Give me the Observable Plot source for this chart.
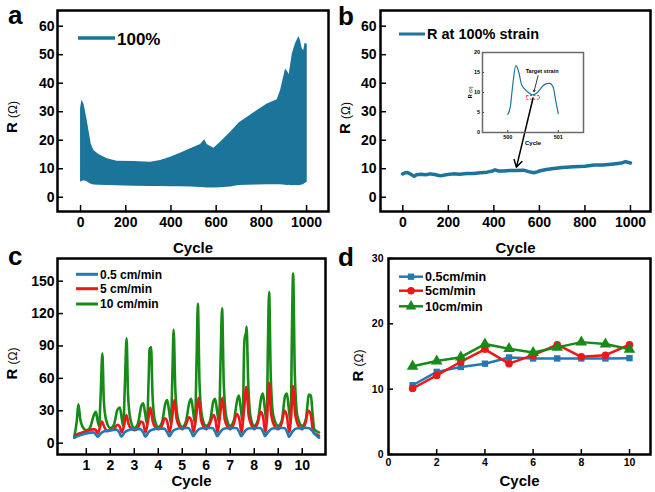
<!DOCTYPE html>
<html><head><meta charset="utf-8">
<script src="https://cdn.jsdelivr.net/npm/d3@7"></script>
<script src="https://cdn.jsdelivr.net/npm/@observablehq/plot@0.6"></script>
<style>
body{margin:0;background:#fff;}
#root{position:relative;width:655px;height:492px;overflow:hidden;background:#fff;}
</style></head><body><div id="root"></div>
<script>
// ---------- DATA ----------
// Panel a: envelope of the dense oscillation (100% strain cycling)
const aCycle = [0, 6, 15, 27, 37, 47, 59, 81, 118, 162, 236, 310, 354, 398, 442, 487, 531, 549, 560, 590, 619, 664, 701, 737, 782, 826, 870, 885, 907, 917, 923, 937, 951, 966, 973, 981, 988, 993, 1003];
const aUpper = [31, 34, 32.7, 28, 23.4, 18.7, 16.4, 15, 13.5, 12.6, 12.5, 12.3, 12.9, 14, 15.4, 17, 18.5, 20.2, 18.5, 17.2, 19.3, 22.8, 26, 28, 30.4, 32.7, 34.2, 37.4, 45, 43.9, 43, 50.3, 53.8, 56.4, 55, 52, 51.5, 54, 53.6];
const aLower = [5.3, 5.5, 5.8, 5.5, 5, 4.6, 4.3, 4.2, 4.1, 4, 3.9, 3.8, 3.8, 3.7, 3.7, 3.6, 3.4, 3.3, 3.2, 3.2, 3.3, 3.6, 4.1, 4.2, 4.3, 4.4, 4.4, 4.4, 4.2, 4.1, 4.2, 4, 4.1, 4, 4.1, 4.3, 4.5, 4.8, 5.3];
const aLegend = "100%";

// Panel b: R at 100% strain
const bCycle = [0,10,20,30,40,50,60,80,100,120,140,165,190,220,250,280,310,340,370,390,405,420,443,470,500,530,553,575,590,604,630,663,700,750,800,840,880,927,960,978,1000];
const bR = [8.2,8.6,8.7,8.3,7.8,7.4,7.9,8.1,7.9,8.2,8.0,7.5,7.9,8.2,8.1,8.3,8.3,8.6,8.8,9.1,9.6,9.2,9.2,9.4,9.4,9.5,9.0,8.6,8.9,9.3,9.7,10.1,10.4,10.7,10.9,11.3,11.3,11.7,12.0,12.5,12.0];
const bLegend = "R at 100% strain";
const bArrow = [{x1: 572, y1: 34.8, x2: 499, y2: 10.5}];

// Panel b inset: one cycle (500 -> 501)
const insetX = [500.0,500.05,500.1,500.16,500.22,500.27,500.34,500.4,500.49,500.57,500.64,500.7,500.77,500.83,500.9,500.95,501.0];
const insetR = [4.5,6.4,12,16.7,15,12.1,10.8,10.1,9.4,9.8,10.8,11.7,12.2,12.3,11.3,8,4.7];
const insetBox = [{x1: 500.38, x2: 500.64, y1: 8.2, y2: 9.1}];
const insetNote = [{x: 500.68, y: 15.25, label: "Target strain"}];
const insetArrow = [{x1: 500.6, y1: 14.2, x2: 500.52, y2: 10.2}];

// Panel c: R vs cycle at three stretching speeds
const cLabels = ["0.5 cm/min", "5 cm/min", "10 cm/min"];
const cSlow = [[0.50,5],[0.70,7],[0.90,8.5],[1.10,9.5],[1.30,10],[1.40,8],[1.47,6],[1.60,9],[1.75,11],[2.00,12],[2.25,12.5],[2.37,10],[2.46,6],[2.60,10],[2.75,12],[3.00,13],[3.25,13],[3.37,10],[3.46,6],[3.60,10.5],[3.75,12.5],[4.00,13.5],[4.25,13.5],[4.37,10],[4.46,6.5],[4.60,11],[4.75,13],[5.00,14],[5.25,14],[5.37,10.5],[5.46,6.5],[5.60,11],[5.75,13.5],[6.00,14],[6.25,14],[6.37,10.5],[6.46,6.5],[6.60,11],[6.75,13.5],[7.00,14],[7.25,14],[7.37,10.5],[7.46,6.5],[7.60,11],[7.75,13.5],[8.00,14],[8.25,14],[8.37,10.5],[8.45,6.5],[8.60,11],[8.75,13.5],[9.00,14],[9.25,14],[9.37,10.5],[9.45,6],[9.60,11],[9.75,13.5],[10.00,14],[10.25,14],[10.40,12],[10.55,8],[10.70,5]];
const cMid = [[0.50,5],[0.60,8],[0.70,9],[0.85,10],[1.00,11],[1.15,12],[1.30,13],[1.40,12],[1.48,9],[1.56,14],[1.65,20],[1.75,15],[1.87,11],[2.00,12],[2.15,13],[2.30,17],[2.38,16],[2.48,10],[2.58,17],[2.67,26],[2.77,17],[2.90,13],[3.00,12],[3.15,14],[3.28,20],[3.36,19],[3.47,10],[3.57,20],[3.67,33],[3.77,20],[3.90,14],[4.00,13],[4.15,16],[4.27,23],[4.36,21],[4.47,10],[4.57,22],[4.67,40],[4.77,22],[4.90,15],[5.00,13],[5.15,17],[5.28,24],[5.38,21],[5.47,10],[5.58,25],[5.68,42],[5.78,22],[5.90,15],[6.00,13],[6.15,18],[6.30,26],[6.38,22],[6.47,10],[6.57,25],[6.67,42],[6.77,22],[6.90,15],[7.00,13],[7.15,18],[7.27,27],[7.37,23],[7.47,10],[7.57,30],[7.67,52],[7.77,25],[7.90,16],[8.00,13],[8.15,19],[8.27,29],[8.37,24],[8.46,10],[8.55,30],[8.61,56],[8.70,28],[8.82,17],[9.00,13],[9.15,19],[9.26,30],[9.36,25],[9.46,10],[9.55,30],[9.61,53],[9.70,28],[9.82,17],[10.00,13],[10.15,20],[10.25,30],[10.35,27],[10.46,10],[10.60,8],[10.70,7]];
const cFast = [[0.50,6],[0.60,20],[0.67,36],[0.75,22],[0.85,15],[1.00,12],[1.15,14],[1.30,25],[1.40,29],[1.46,22],[1.53,16],[1.60,45],[1.67,83],[1.73,40],[1.82,22],[2.00,14],[2.15,17],[2.30,31],[2.40,33],[2.47,24],[2.54,16],[2.61,55],[2.68,97],[2.74,45],[2.84,22],[3.00,14],[3.15,18],[3.30,35],[3.37,37],[3.45,28],[3.53,18],[3.60,60],[3.64,88],[3.67,84],[3.70,89],[3.76,45],[3.85,22],[4.00,15],[4.15,19],[4.30,37],[4.37,40],[4.45,30],[4.53,18],[4.59,65],[4.64,105],[4.71,50],[4.82,23],[5.00,15],[5.15,20],[5.30,38],[5.37,41],[5.45,30],[5.53,18],[5.60,80],[5.65,129],[5.72,55],[5.83,24],[6.00,16],[6.15,20],[6.30,39],[6.37,41],[6.45,30],[6.53,19],[6.60,80],[6.66,125],[6.73,55],[6.84,24],[7.00,16],[7.15,21],[7.30,41],[7.36,44],[7.44,32],[7.52,19],[7.58,90],[7.62,101],[7.65,98],[7.68,108],[7.75,55],[7.85,24],[8.00,16],[8.15,21],[8.30,43],[8.36,46],[8.44,32],[8.52,19],[8.57,90],[8.62,140],[8.69,60],[8.80,25],[9.00,16],[9.15,21],[9.28,43],[9.36,46],[9.44,32],[9.52,19],[9.57,100],[9.62,157],[9.69,65],[9.80,25],[10.00,16],[10.15,22],[10.28,45],[10.36,44],[10.44,25],[10.50,13],[10.60,11],[10.70,10]];

// Panel d: R at target strain per cycle
const dLabels = ["0.5cm/min", "5cm/min", "10cm/min"];
const dCycle = [1,2,3,4,5,6,7,8,9,10];
const dSlow = [10.6,12.65,13.4,13.9,14.85,14.7,14.7,14.7,14.7,14.75];
const dMid  = [10.1,12.1,14.2,16.1,13.9,15.2,16.8,14.95,15.2,16.8];
const dFast = [13.5,14.3,14.9,16.9,16.2,15.6,16.4,17.2,16.9,16.1];

// Tick labels
const abXTicks = [0,200,400,600,800,1000];
const abYTicks = [0,10,20,30,40,50,60];
const cXTicks = [1,2,3,4,5,6,7,8,9,10];
const cYTicks = [0,30,60,90,120,150];
const dXTicks = [0,2,4,6,8,10];
const dYTicks = [0,10,20,30];
const insetXTicks = [500,501];
const insetYTicks = [0,5,10,15,20];
const panelLetters = ["a","b","c","d"];

// ---------- STYLE ----------
const FONT = '"Liberation Sans", Arial, Helvetica, sans-serif';
const TEAL = "#1b7499";
const BLUE = "#2479b3";
const RED = "#ee1717";
const GREEN = "#178a17";
const colors3 = [BLUE, RED, GREEN];
const fmt = d => `${d}`;
const root = document.getElementById("root");

function place(svg, left, top) {
  svg.style.position = "absolute";
  svg.style.left = left + "px";
  svg.style.top = top + "px";
  // R (Ω): make the Ω part lighter/smaller
  d3.select(svg).selectAll("text").filter(function(){ return this.textContent === "R (Ω)"; }).each(function(){
    const t = d3.select(this); t.text(null);
    t.append("tspan").text("R ");
    t.append("tspan").attr("font-weight","normal").attr("font-size","0.8em").text("(Ω)");
  });
  root.appendChild(svg);
}
function inTicks(xt, yt, fw, fh, len, sw) {
  return [
    Plot.tickX(xt, {x: d => d, insetTop: fh - len, stroke: "black", strokeWidth: sw}),
    Plot.tickY(yt, {y: d => d, insetRight: fw - len, stroke: "black", strokeWidth: sw})
  ];
}
const baseStyle = {fontFamily: FONT, fontWeight: "bold", background: "transparent", color: "black", overflow: "visible"};

// ---------- PANEL a ----------
place(Plot.plot({
  width: 332, height: 258, marginLeft: 57, marginTop: 10, marginRight: 4, marginBottom: 47,
  style: baseStyle,
  x: {domain: [-102, 1097]}, y: {domain: [-5, 65.5]},
  marks: [
    Plot.areaY(aCycle.map((c, i) => ({c, lo: aLower[i], hi: aUpper[i]})), {x: "c", y1: "lo", y2: "hi", fill: TEAL}),
    ...inTicks(abXTicks, abYTicks, 271, 201, 6, 1.5),
    Plot.axisX({ticks: abXTicks, tickFormat: fmt, tickSize: 0, tickPadding: 6, fontSize: 14, label: null}),
    Plot.axisY({ticks: abYTicks, tickFormat: fmt, tickSize: 0, tickPadding: 3, fontSize: 14, label: null}),
    Plot.text(["Cycle"], {frameAnchor: "bottom", dy: 37, fontSize: 15, textAnchor: "middle", lineAnchor: "middle"}),
    Plot.text(["R (Ω)"], {frameAnchor: "left", rotate: -90, dx: -45, dy: 6, fontSize: 15, textAnchor: "middle", lineAnchor: "middle"}),
    Plot.frame({stroke: "black", strokeWidth: 2.5})
  ]
}), 0, 0);

// ---------- PANEL b ----------
place(Plot.plot({
  width: 325, height: 258, marginLeft: 50, marginTop: 10, marginRight: 5, marginBottom: 47,
  style: baseStyle,
  x: {domain: [-98, 1088]}, y: {domain: [-5, 65.5]},
  marks: [
    Plot.line(bCycle.map((c, i) => ({c, r: bR[i]})), {x: "c", y: "r", stroke: TEAL, strokeWidth: 3.5}),
    Plot.arrow(bArrow, {x1: "x1", y1: "y1", x2: "x2", y2: "y2", stroke: "black", strokeWidth: 1.5, headLength: 8}),
    ...inTicks(abXTicks, abYTicks, 270, 201, 6, 1.5),
    Plot.axisX({ticks: abXTicks, tickFormat: fmt, tickSize: 0, tickPadding: 6, fontSize: 14, label: null}),
    Plot.axisY({ticks: abYTicks, tickFormat: fmt, tickSize: 0, tickPadding: 4, fontSize: 14, label: null}),
    Plot.text(["Cycle"], {frameAnchor: "bottom", dy: 37, fontSize: 15, textAnchor: "middle", lineAnchor: "middle"}),
    Plot.text(["R (Ω)"], {frameAnchor: "left", rotate: -90, dx: -35, dy: 7, fontSize: 15, textAnchor: "middle", lineAnchor: "middle"}),
    Plot.frame({stroke: "black", strokeWidth: 2.5})
  ]
}), 330, 0);

// ---------- INSET (panel b) ----------
place(Plot.plot({
  width: 128, height: 104, marginLeft: 22, marginTop: 6, marginRight: 5, marginBottom: 18,
  style: baseStyle,
  x: {domain: [499.5, 501.5]}, y: {domain: [0, 20]},
  marks: [
    Plot.line(insetX.map((c, i) => ({c, r: insetR[i]})), {x: "c", y: "r", stroke: TEAL, strokeWidth: 1.2, curve: "monotone-x"}),
    Plot.rect(insetBox, {x1: "x1", x2: "x2", y1: "y1", y2: "y2", stroke: "#e33", fill: "none", strokeWidth: 1, strokeDasharray: "2,1.5"}),
    Plot.text(insetNote, {x: "x", y: "y", text: "label", fontSize: 5.5}),
    Plot.arrow(insetArrow, {x1: "x1", y1: "y1", x2: "x2", y2: "y2", stroke: "black", strokeWidth: 0.8, headLength: 3}),
    ...inTicks(insetXTicks, insetYTicks, 101, 80, 2, 0.8),
    Plot.axisX({ticks: insetXTicks, tickFormat: fmt, tickSize: 0, tickPadding: 3, fontSize: 5.5, label: null}),
    Plot.axisY({ticks: insetYTicks, tickFormat: fmt, tickSize: 0, tickPadding: 2.5, fontSize: 5.5, label: null}),
    Plot.text(["Cycle"], {frameAnchor: "bottom", dy: 10.5, fontSize: 6, textAnchor: "middle", lineAnchor: "middle"}),
    Plot.text(["R (Ω)"], {frameAnchor: "left", rotate: -90, dx: -12.5, fontSize: 5.5, textAnchor: "middle", lineAnchor: "middle"}),
    Plot.frame({stroke: "#6a6a6a", strokeWidth: 1.5})
  ]
}), 460, 46);

// ---------- PANEL c ----------
const cSeries = [cSlow, cMid, cFast];
place(Plot.plot({
  width: 330, height: 244, marginLeft: 57, marginTop: 10, marginRight: 5, marginBottom: 38,
  style: baseStyle,
  x: {domain: [-0.2, 10.97]}, y: {domain: [-10.5, 171]},
  marks: [
    ...[2, 1, 0].map(k => Plot.line(cSeries[k], {x: d => d[0], y: d => d[1], stroke: colors3[k], strokeWidth: 2.6, curve: "monotone-x"})),
    ...inTicks(cXTicks, cYTicks, 268, 196, 6, 1.5),
    Plot.axisX({ticks: cXTicks, tickFormat: fmt, tickSize: 0, tickPadding: 6, fontSize: 14, label: null}),
    Plot.axisY({ticks: cYTicks, tickFormat: fmt, tickSize: 0, tickPadding: 3, fontSize: 14, label: null}),
    Plot.text(["Cycle"], {frameAnchor: "bottom", dy: 27, fontSize: 15, textAnchor: "middle", lineAnchor: "middle"}),
    Plot.text(["R (Ω)"], {frameAnchor: "left", rotate: -90, dx: -45, dy: 7, fontSize: 15, textAnchor: "middle", lineAnchor: "middle"}),
    Plot.frame({stroke: "black", strokeWidth: 2.5})
  ]
}), 0, 248);

// ---------- PANEL d ----------
const dSeries = [dSlow, dMid, dFast];
const dSymbols = ["square", "circle", "triangle"];
const dR = [3.6, 3.8, 4.3];
place(Plot.plot({
  width: 325, height: 244, marginLeft: 58, marginTop: 10, marginRight: 5, marginBottom: 38,
  style: baseStyle,
  x: {domain: [0, 10.87]}, y: {domain: [0, 30]},
  symbol: {type: "identity"},
  marks: [
    ...[0, 1, 2].flatMap(k => {
      const data = dCycle.map((c, i) => ({c, r: dSeries[k][i]}));
      return [
        Plot.line(data, {x: "c", y: "r", stroke: colors3[k], strokeWidth: 2.5}),
        Plot.dot(data, {x: "c", y: "r", fill: colors3[k], symbol: dSymbols[k], r: dR[k]})
      ];
    }),
    ...inTicks(dXTicks, dYTicks, 262, 196, 5, 1.5),
    Plot.axisX({ticks: dXTicks, tickFormat: fmt, tickSize: 0, tickPadding: 4, fontSize: 10.5, label: null}),
    Plot.axisY({ticks: dYTicks, tickFormat: fmt, tickSize: 0, tickPadding: 5, fontSize: 10.5, label: null}),
    Plot.text(["Cycle"], {frameAnchor: "bottom", dy: 27, fontSize: 15, textAnchor: "middle", lineAnchor: "middle"}),
    Plot.text(["R (Ω)"], {frameAnchor: "left", rotate: -90, dx: -30, dy: 9, fontSize: 15, textAnchor: "middle", lineAnchor: "middle"}),
    Plot.frame({stroke: "black", strokeWidth: 2.5})
  ]
}), 330, 248);

// ---------- OVERLAY: panel letters and legends ----------
const ov = d3.create("svg").attr("width", 655).attr("height", 492)
  .style("position", "absolute").style("left", "0px").style("top", "0px")
  .style("font-family", FONT).style("font-weight", "bold").style("pointer-events", "none");
const letterPos = [[8, 24], [338, 25], [8, 265], [338, 266]];
panelLetters.forEach((L, i) => ov.append("text").attr("x", letterPos[i][0]).attr("y", letterPos[i][1]).attr("font-size", 26).text(L));

// a legend
ov.append("line").attr("x1", 78).attr("x2", 115).attr("y1", 38).attr("y2", 38).attr("stroke", TEAL).attr("stroke-width", 3.5);
ov.append("text").attr("x", 117).attr("y", 44.5).attr("font-size", 17).text(aLegend);
// b legend
ov.append("line").attr("x1", 399).attr("x2", 425).attr("y1", 34).attr("y2", 34).attr("stroke", TEAL).attr("stroke-width", 3);
ov.append("text").attr("x", 427).attr("y", 39).attr("font-size", 14.5).text(bLegend);
// c legend
const cLy = [274.3, 288.7, 304];
cLabels.forEach((lab, k) => {
  ov.append("line").attr("x1", 76).attr("x2", 98).attr("y1", cLy[k]).attr("y2", cLy[k]).attr("stroke", colors3[k]).attr("stroke-width", 3);
  ov.append("text").attr("x", 100).attr("y", cLy[k] + 4.3).attr("font-size", 12).text(lab);
});
// d legend
const dLy = [276.7, 290.7, 306.3];
dLabels.forEach((lab, k) => {
  ov.append("line").attr("x1", 399).attr("x2", 423).attr("y1", dLy[k]).attr("y2", dLy[k]).attr("stroke", colors3[k]).attr("stroke-width", 2.5);
  const sym = d3.symbol().type([d3.symbolSquare, d3.symbolCircle, d3.symbolTriangle][k]).size([40, 45, 50][k]);
  ov.append("path").attr("d", sym()).attr("transform", `translate(411,${dLy[k]})`).attr("fill", colors3[k]);
  ov.append("text").attr("x", 425).attr("y", dLy[k] + 4.4).attr("font-size", 12.5).text(lab);
});
root.appendChild(ov.node());
</script>
</body></html>
